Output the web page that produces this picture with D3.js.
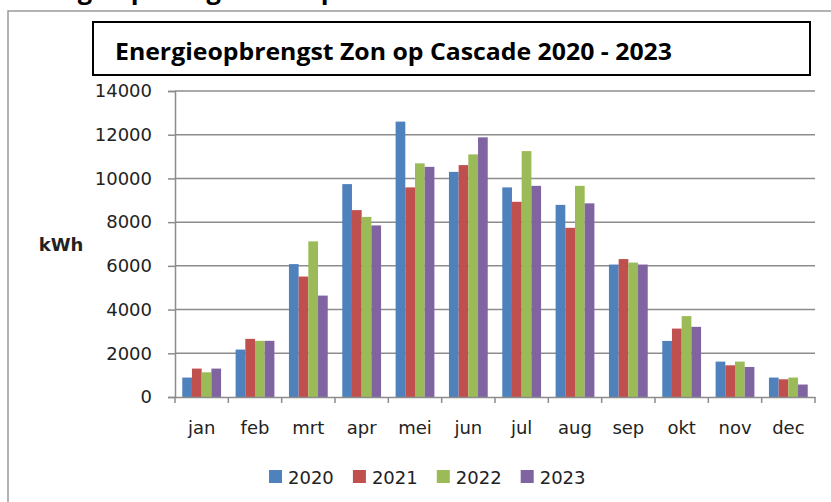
<!DOCTYPE html>
<html>
<head>
<meta charset="utf-8">
<script src="https://cdn.jsdelivr.net/npm/d3@7"></script>
<style>
  body { margin: 0; background: #fff; }
  svg { display: block; }
  .tick-label { font-family: "DejaVu Sans", Verdana, sans-serif; font-size: 18px; fill: #222; }
</style>
</head>
<body>
<div id="chart-area"></div>
<script>

// Data (kWh per month)
var months = ["jan", "feb", "mrt", "apr", "mei", "jun", "jul", "aug", "sep", "okt", "nov", "dec"];
var years = ["2020", "2021", "2022", "2023"];
var colors = ["#4f81bd", "#c0504d", "#9bbb59", "#8064a2"];

var y2020 = [890, 2170, 6080, 9740, 12600, 10300, 9590, 8790, 6060, 2565, 1620, 890];
var y2021 = [1300, 2660, 5510, 8550, 9590, 10610, 8930, 7740, 6310, 3130, 1450, 810];
var y2022 = [1130, 2570, 7120, 8240, 10690, 11100, 11250, 9660, 6150, 3700, 1620, 890];
var y2023 = [1300, 2570, 4640, 7850, 10530, 11880, 9660, 8860, 6060, 3210, 1375, 570];
var yTicks = [0, 2000, 4000, 6000, 8000, 10000, 12000, 14000];

var series = [y2020, y2021, y2022, y2023];

var width = 831, height = 502;
var plot = {left: 175, right: 815, top: 91, bottom: 397};

var svg = d3.select("#chart-area").append("svg")
    .attr("width", width)
    .attr("height", height);

// heading of the page above the chart, cut off by the top edge (as in the picture)
svg.append("text")
    .attr("x", 20)
    .attr("y", -1)
    .attr("font-family", "Open Sans, sans-serif")
    .attr("font-weight", "bold")
    .attr("font-size", 26)
    .attr("textLength", 317)
    .attr("lengthAdjust", "spacingAndGlyphs")
    .attr("fill", "#000")
    .text("Energieopbrengst Zon op");

// chart frame
svg.append("path")
    .attr("d", "M8," + height + "V11H" + width)
    .attr("fill", "none")
    .attr("stroke", "#9a9a9a")
    .attr("stroke-width", 1.5);

// title box
svg.append("rect")
    .attr("x", 93).attr("y", 22)
    .attr("width", 717).attr("height", 53)
    .attr("fill", "#fff")
    .attr("stroke", "#000")
    .attr("stroke-width", 2);

svg.append("text")
    .attr("x", 115)
    .attr("y", 60)
    .attr("font-family", "Open Sans, sans-serif")
    .attr("font-weight", "bold")
    .attr("font-size", 24)
    .attr("textLength", 557)
    .attr("lengthAdjust", "spacingAndGlyphs")
    .attr("fill", "#000")
    .text("Energieopbrengst Zon op Cascade 2020 - 2023");

var x0 = d3.scaleBand()
    .domain(months)
    .range([plot.left, plot.right]);

var x1 = d3.scaleBand()
    .domain(years)
    .range([0, x0.bandwidth()])
    .paddingOuter(0.75);

var y = d3.scaleLinear()
    .domain([0, 14000])
    .range([plot.bottom, plot.top]);

// gridlines
svg.append("g")
    .selectAll("line")
    .data(yTicks.slice(1))
    .enter()
    .append("line")
    .attr("x1", plot.left)
    .attr("x2", plot.right)
    .attr("y1", function(d) { return y(d); })
    .attr("y2", function(d) { return y(d); })
    .attr("stroke", "#8c8c8c")
    .attr("stroke-width", 1.5);

// bars
var groups = svg.append("g")
    .selectAll("g")
    .data(months)
    .enter()
    .append("g")
    .attr("transform", function(d) { return "translate(" + x0(d) + ",0)"; });

groups.selectAll("rect")
    .data(function(m, i) {
        return years.map(function(yr, j) { return {year: yr, value: series[j][i], c: colors[j]}; });
    })
    .enter()
    .append("rect")
    .attr("x", function(d) { return x1(d.year); })
    .attr("width", x1.bandwidth())
    .attr("y", function(d) { return y(d.value); })
    .attr("height", function(d) { return y(0) - y(d.value); })
    .attr("fill", function(d) { return d.c; });

// y axis
var yAxis = svg.append("g")
    .attr("transform", "translate(" + plot.left + ",0)")
    .call(d3.axisLeft(y).tickValues(yTicks).tickFormat(d3.format("d")).tickSize(7).tickPadding(16));
yAxis.select(".domain").attr("stroke", "#8c8c8c").attr("stroke-width", 1.5);
yAxis.selectAll(".tick line").attr("stroke", "#8c8c8c").attr("stroke-width", 1.5);
yAxis.selectAll(".tick text").attr("class", "tick-label").attr("font-family", null).attr("font-size", null);

// x axis
var xAxis = svg.append("g")
    .attr("transform", "translate(0," + plot.bottom + ")")
    .call(d3.axisBottom(x0).tickSize(0).tickPadding(24));
xAxis.select(".domain").attr("stroke", "#8c8c8c").attr("stroke-width", 1.5);
xAxis.selectAll(".tick text").attr("class", "tick-label").attr("font-family", null).attr("font-size", null);

// category separators under the axis
svg.append("g")
    .selectAll("line")
    .data(months.map(function(m) { return x0(m); }).concat([plot.right]))
    .enter()
    .append("line")
    .attr("x1", function(d) { return d; })
    .attr("x2", function(d) { return d; })
    .attr("y1", plot.bottom)
    .attr("y2", plot.bottom + 6)
    .attr("stroke", "#8c8c8c")
    .attr("stroke-width", 1.5);

// y axis title
svg.append("text")
    .attr("x", 61)
    .attr("y", 251)
    .attr("text-anchor", "middle")
    .attr("font-family", "DejaVu Sans, sans-serif")
    .attr("font-weight", "bold")
    .attr("font-size", 18)
    .attr("fill", "#222")
    .text("kWh");

// legend
var legend = svg.append("g")
    .selectAll("g")
    .data(years)
    .enter()
    .append("g")
    .attr("transform", function(d, i) { return "translate(" + (269 + i * 83.9) + ",470)"; });

legend.append("rect")
    .attr("width", 13)
    .attr("height", 13)
    .attr("fill", function(d, i) { return colors[i]; });

legend.append("text")
    .attr("class", "tick-label")
    .attr("x", 19)
    .attr("y", 13.5)
    .text(function(d) { return d; });

</script>
</body>
</html>
